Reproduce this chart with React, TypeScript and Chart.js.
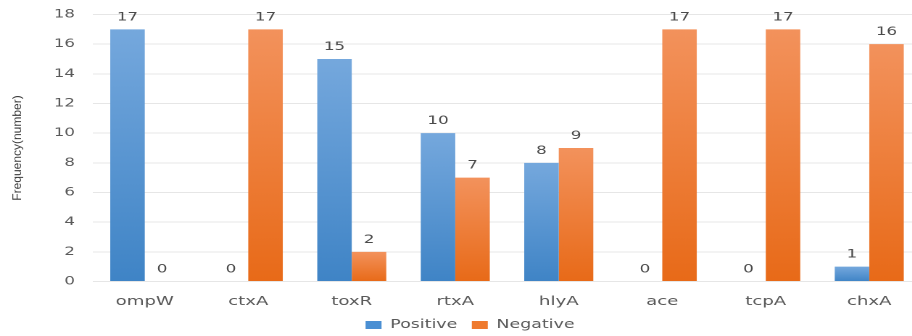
import React, { useEffect, useRef } from "react";
import { Chart, registerables } from "chart.js";

Chart.register(...registerables);

const categories = ["ompW", "ctxA", "toxR", "rtxA", "hlyA", "ace", "tcpA", "chxA"];
const positiveValues = [17, 0, 15, 10, 8, 0, 0, 1];
const negativeValues = [0, 17, 2, 7, 9, 17, 17, 16];
const seriesNames = ["Positive", "Negative"];
const yTitle = "Frequency(number)";

const SX = 1.45; // horizontal stretch of the picture
const CW = 648;
const CH = 336;

const BLUE_TOP = "#75a8dd";
const BLUE_BOT = "#3f84c6";
const OR_TOP = "#f3925c";
const OR_BOT = "#e86a18";

function gradientFill(top: string, bot: string) {
  return (c: any) => {
    const chart = c.chart;
    if (!chart.chartArea || c.type !== "data") return bot;
    const ys = chart.scales.y;
    const t = ys.getPixelForValue(c.raw);
    const b = ys.getPixelForValue(0);
    if (!(b - t > 0.5)) return bot;
    const g = chart.ctx.createLinearGradient(0, t, 0, b);
    g.addColorStop(0, top);
    g.addColorStop(1, bot);
    return g;
  };
}

const valueLabels = {
  id: "valueLabels",
  afterDatasetsDraw(chart: any) {
    const ctx = chart.ctx;
    ctx.save();
    ctx.font = '11.5px "DejaVu Sans"';
    ctx.fillStyle = "#4a4a4a";
    ctx.textAlign = "center";
    ctx.textBaseline = "alphabetic";
    chart.data.datasets.forEach((ds: any, i: number) => {
      chart.getDatasetMeta(i).data.forEach((bar: any, j: number) => {
        ctx.fillText(String(ds.data[j]), bar.x, bar.y - 9);
      });
    });
    ctx.restore();
  },
};

const yTitlePlugin = {
  id: "yTitlePlugin",
  afterDraw(chart: any) {
    const ctx = chart.ctx;
    const a = chart.chartArea;
    ctx.save();
    ctx.translate(17.5 / SX, (a.top + a.bottom) / 2);
    ctx.scale(1 / SX, 1);
    ctx.rotate(-Math.PI / 2);
    ctx.font = '12px "Liberation Sans", sans-serif';
    ctx.fillStyle = "#3a3a3a";
    ctx.textAlign = "center";
    ctx.textBaseline = "middle";
    ctx.fillText(yTitle, 0, 0);
    ctx.restore();
  },
};

const legendShift = {
  id: "legendShift",
  afterLayout(chart: any) {
    const lg = chart.legend;
    if (lg) {
      lg.left += 6.6;
      lg.right += 6.6;
    }
  },
};

export default function App() {
  const ref = useRef<HTMLCanvasElement>(null);

  useEffect(() => {
    document.body.style.margin = "0";
    const canvas = ref.current!;
    const chart = new Chart(canvas, {
      type: "bar",
      data: {
        labels: categories,
        datasets: [
          {
            label: seriesNames[0],
            data: positiveValues,
            backgroundColor: gradientFill(BLUE_TOP, BLUE_BOT),
            borderWidth: 0,
            categoryPercentage: 0.667,
            barPercentage: 1,
          },
          {
            label: seriesNames[1],
            data: negativeValues,
            backgroundColor: gradientFill(OR_TOP, OR_BOT),
            borderWidth: 0,
            categoryPercentage: 0.667,
            barPercentage: 1,
          },
        ],
      },
      options: {
        animation: false,
        responsive: false,
        devicePixelRatio: 2,
        layout: { padding: { top: 14.5, right: CW - 921 / SX, bottom: 0, left: 0 } },
        plugins: {
          legend: {
            position: "bottom",
            maxHeight: 27,
            labels: {
              boxWidth: 11,
              boxHeight: 8,
              padding: 10,
              color: "#595959",
              font: { family: "DejaVu Sans", size: 12 },
              generateLabels: (chart: any) =>
                chart.data.datasets.map((ds: any, i: number) => ({
                  text: ds.label,
                  fillStyle: i === 0 ? "#4a8fd3" : "#ef7a2e",
                  strokeStyle: "rgba(0,0,0,0)",
                  lineWidth: 0,
                  hidden: false,
                  datasetIndex: i,
                  fontColor: "#595959",
                })),
            },
          },
          tooltip: { enabled: false },
        },
        scales: {
          x: {
            grid: { display: false, drawTicks: false },
            border: { display: false },
            ticks: {
              color: "#595959",
              font: { family: "DejaVu Sans", size: 12.5 },
              padding: 12.5,
            },
            afterFit: (s: any) => {
              s.height = 27.5;
            },
          },
          y: {
            min: 0,
            max: 18,
            ticks: {
              stepSize: 2,
              color: "#595959",
              font: { family: "DejaVu Sans", size: 11.5 },
              padding: 0,
            },
            grid: {
              color: "#e6e6e6",
              drawTicks: true,
              tickLength: 12.4,
              tickColor: "rgba(0,0,0,0)",
              lineWidth: 1,
            },
            border: { display: false },
            afterFit: (s: any) => {
              s.width = 93 / SX;
            },
          },
        },
      },
      plugins: [valueLabels, yTitlePlugin, legendShift],
    });
    return () => chart.destroy();
  }, []);

  return (
    <div style={{ width: 912, height: CH, overflow: "hidden", position: "relative", background: "#fff" }}>
      <canvas
        ref={ref}
        width={CW}
        height={CH}
        style={{
          width: CW + "px",
          height: CH + "px",
          transform: `scaleX(${SX})`,
          transformOrigin: "0 0",
          display: "block",
        }}
      />
    </div>
  );
}
